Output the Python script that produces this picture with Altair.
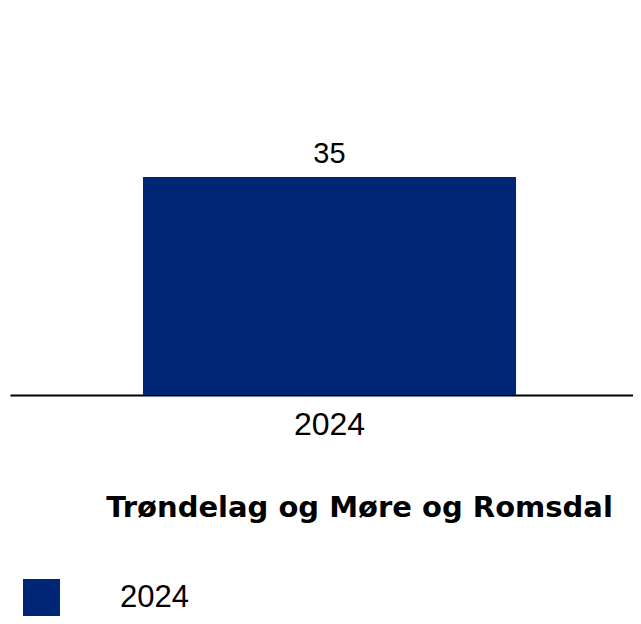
import altair as alt
import pandas as pd

years = ["2024"]
values = [35]
region = "Trøndelag og Møre og Romsdal"
bar_color = "#002776"

df = pd.DataFrame({"year": years, "value": values})

base = alt.Chart(df)

xenc = alt.X("year:N", title=None,
             scale=alt.Scale(paddingInner=0, paddingOuter=0.335, align=0.532),
             axis=alt.Axis(labelAngle=0, labelFontSize=32, labelFont="Liberation Sans",
                           labelColor="#000000", domainColor="#000000", domainWidth=2,
                           ticks=False, labelPadding=14))

bars = base.mark_bar().encode(
    x=xenc,
    y=alt.Y("value:Q", title=None, scale=alt.Scale(domain=[0, 35], nice=False),
            axis=None),
    color=alt.Color("year:N", title=None,
                    scale=alt.Scale(domain=years, range=[bar_color]),
                    legend=alt.Legend(orient="none", legendX=13, legendY=402,
                                      symbolType="square", symbolSize=1369,
                                      symbolStrokeWidth=0, labelFontSize=31,
                                      labelFont="Liberation Sans", labelColor="#000000",
                                      labelOffset=60, padding=0)),
)

labels = base.mark_text(fontSize=29, font="Liberation Sans", color="#000000",
                        baseline="alphabetic", dy=-14).encode(
    x=alt.X("year:N"),
    y="value:Q",
    text="value:Q",
)

chart = (bars + labels).properties(
    width=623,
    height=218,
    padding={"left": 2, "top": 169, "right": 0, "bottom": 221},
    autosize=alt.AutoSizeParams(type="none"),
    title=alt.TitleParams(region, orient="bottom", anchor="middle", frame="group",
                          baseline="alphabetic",
                          font="DejaVu Sans", fontWeight="bold", fontSize=29,
                          color="#000000", offset=-99, dx=38),
).configure_view(stroke=None)

chart.save("out.html", embed_options={"renderer": "svg", "actions": False})
